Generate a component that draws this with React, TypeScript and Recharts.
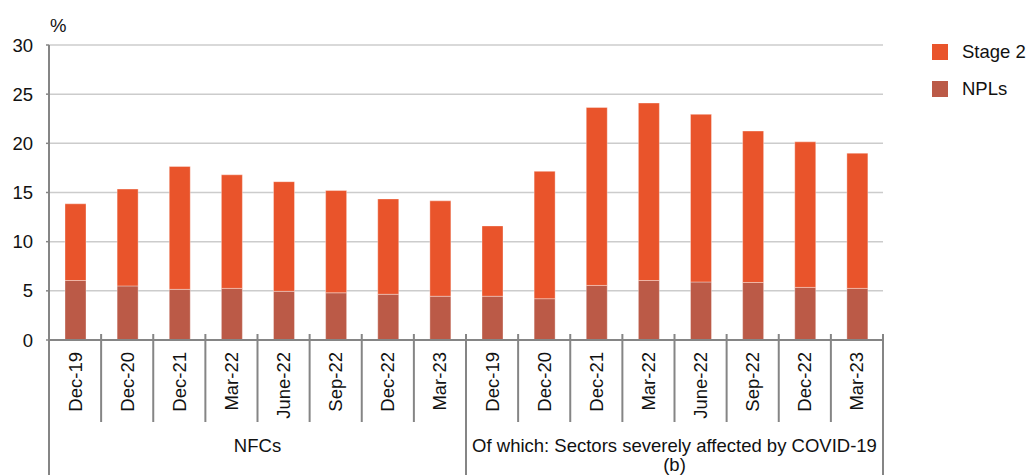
import { Bar, BarChart, CartesianGrid, Legend, XAxis, YAxis } from 'recharts'

const FONT = '"Liberation Sans", Arial, Helvetica, sans-serif'
const FS = 18.5
const STAGE2_COLOR = '#E9542B'
const NPL_COLOR = '#BB5A47'
const AXIS = '#858585'
const GRID = '#cccccc'
const TEXT = '#111111'

const W = 1030
const H = 475
const X_AXIS_H = 135

const periods = ['Dec-19', 'Dec-20', 'Dec-21', 'Mar-22', 'June-22', 'Sep-22', 'Dec-22', 'Mar-23']
const groupLabels = [['NFCs'], ['Of which: Sectors severely affected by COVID-19', '(b)']]

const nfcNpl = [6.05, 5.5, 5.15, 5.25, 4.95, 4.8, 4.65, 4.45]
const nfcStage2 = [7.8, 9.85, 12.5, 11.55, 11.15, 10.4, 9.7, 9.7]
const covidNpl = [4.45, 4.2, 5.55, 6.05, 5.9, 5.85, 5.35, 5.25]
const covidStage2 = [7.15, 12.95, 18.1, 18.05, 17.05, 15.4, 14.8, 13.75]

const yTicks = [0, 5, 10, 15, 20, 25, 30]

const data = [
  ...periods.map((p, i) => ({ key: `nfc-${i}`, period: p, npl: nfcNpl[i], stage2: nfcStage2[i] })),
  ...periods.map((p, i) => ({ key: `covid-${i}`, period: p, npl: covidNpl[i], stage2: covidStage2[i] })),
]

function GroupedTick(props: any) {
  const { x, y, payload } = props
  const i: number = props.index ?? payload.index
  const half: number = payload.offset || 834 / data.length / 2
  const left = x - half
  const right = x + half
  const pos = i % periods.length
  const gi = Math.floor(i / periods.length)
  const bottom = y + X_AXIS_H
  const ty = y + 12
  return (
    <g>
      {pos === 0 ? (
        <line x1={left} x2={left} y1={gi === 0 ? y : y - 6} y2={bottom} stroke={AXIS} strokeWidth={2} />
      ) : (
        <line x1={left} x2={left} y1={y - 6} y2={y + 82} stroke={AXIS} strokeWidth={2} />
      )}
      {i === data.length - 1 && (
        <line x1={right} x2={right} y1={y - 6} y2={bottom} stroke={AXIS} strokeWidth={2} />
      )}
      <text
        x={x}
        y={ty}
        transform={`rotate(-90 ${x} ${ty})`}
        textAnchor="end"
        dominantBaseline="central"
        fontSize={FS}
        fontFamily={FONT}
        fill={TEXT}
      >
        {payload.value}
      </text>
      {pos === 0 &&
        groupLabels[gi].map((line, li) => (
          <text
            key={li}
            x={left + half * periods.length}
            y={y + 112 + li * 19}
            textAnchor="middle"
            fontSize={FS}
            fontFamily={FONT}
            fill={TEXT}
          >
            {line}
          </text>
        ))}
    </g>
  )
}

function LegendBox({ payload }: any) {
  const items = [...(payload || [])].reverse()
  return (
    <div style={{ fontFamily: FONT, fontSize: FS, color: TEXT }}>
      {items.map((it: any) => (
        <div key={it.value} style={{ display: 'flex', alignItems: 'center', height: 37 }}>
          <span style={{ width: 16, height: 16, background: it.color, display: 'inline-block', marginRight: 14 }} />
          <span>{it.value}</span>
        </div>
      ))}
    </div>
  )
}

export default function App() {
  return (
    <div style={{ position: 'absolute', left: 0, top: 0, width: W, height: H, background: '#fff' }}>
      <BarChart
        width={W}
        height={H}
        data={data}
        margin={{ top: 45, right: 147, bottom: 0, left: 0 }}
        barSize={21}
        style={{ fontFamily: FONT }}
      >
        <CartesianGrid vertical={false} stroke={GRID} strokeWidth={1.5} />
        <XAxis
          dataKey="period"
          height={X_AXIS_H}
          interval={0}
          tickSize={0}
          tickMargin={0}
          tickLine={false}
          axisLine={{ stroke: AXIS, strokeWidth: 2 }}
          tick={<GroupedTick />}
        />
        <YAxis
          width={49}
          domain={[0, 30]}
          ticks={yTicks}
          interval={0}
          tickSize={3}
          tickMargin={13}
          axisLine={{ stroke: AXIS, strokeWidth: 2 }}
          tickLine={{ stroke: AXIS, strokeWidth: 1.5 }}
          tick={{ fill: TEXT, fontSize: FS, fontFamily: FONT }}
          label={{
            content: ({ viewBox }: any) => (
              <text
                x={viewBox.x + viewBox.width + 1}
                y={viewBox.y - 13}
                fontSize={FS}
                fontFamily={FONT}
                fill={TEXT}
              >
                %
              </text>
            ),
          }}
        />
        <Legend
          layout="horizontal"
          verticalAlign="middle"
          align="center"
          wrapperStyle={{ left: 932, top: 33, width: 100 }}
          content={<LegendBox />}
        />
        <Bar
          dataKey="npl"
          name="NPLs"
          stackId="a"
          fill={NPL_COLOR}
          stroke="rgba(255,255,255,0.35)"
          strokeWidth={1}
          isAnimationActive={false}
        />
        <Bar
          dataKey="stage2"
          name="Stage 2"
          stackId="a"
          fill={STAGE2_COLOR}
          stroke="rgba(255,255,255,0.35)"
          strokeWidth={1}
          isAnimationActive={false}
        />
      </BarChart>
    </div>
  )
}
